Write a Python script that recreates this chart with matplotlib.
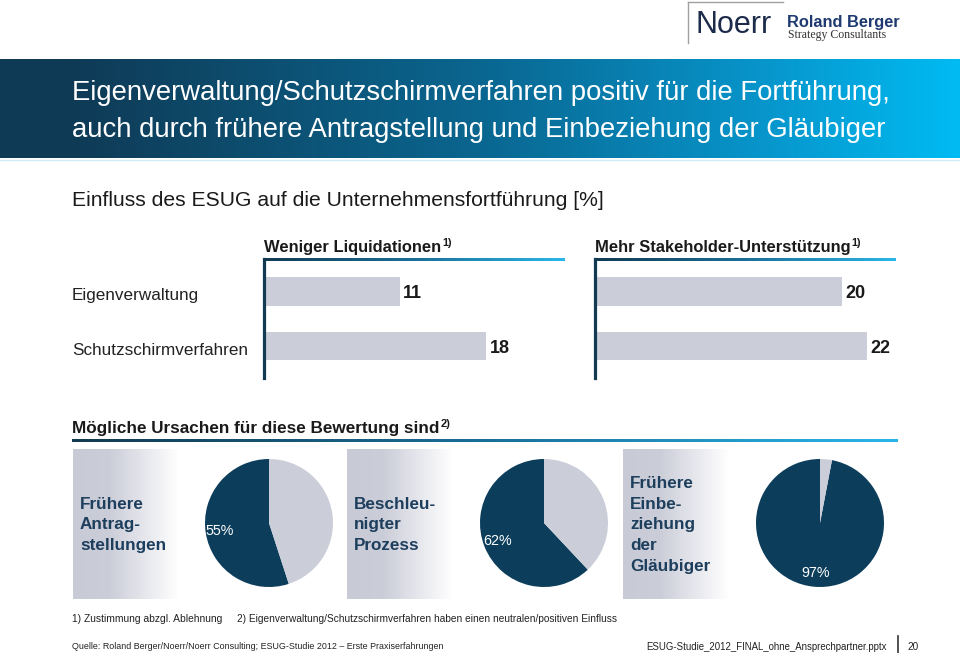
import numpy as np
import matplotlib
matplotlib.use('Agg')
import matplotlib.pyplot as plt
from matplotlib import font_manager
from matplotlib.colors import LinearSegmentedColormap

# ---------------- data ----------------
categories = ['Eigenverwaltung', 'Schutzschirmverfahren']
panel_titles = ['Weniger Liquidationen', 'Mehr Stakeholder-Unterstützung']
fewer_liquidations = [11, 18]
more_support = [20, 22]
cause_labels = ['Frühere\nAntrag-\nstellungen',
                'Beschleu-\nnigter\nProzess',
                'Frühere\nEinbe-\nziehung\nder\nGläubiger']
cause_pct = [55, 62, 97]

title_lines = ['Eigenverwaltung/Schutzschirmverfahren positiv für die Fortführung,',
               'auch durch frühere Antragstellung und Einbeziehung der Gläubiger']
subtitle = 'Einfluss des ESUG auf die Unternehmensfortführung [%]'
causes_heading = 'Mögliche Ursachen für diese Bewertung sind'
footnote1 = '1) Zustimmung abzgl. Ablehnung'
footnote2 = '2) Eigenverwaltung/Schutzschirmverfahren haben einen neutralen/positiven Einfluss'
source = 'Quelle: Roland Berger/Noerr/Noerr Consulting; ESUG-Studie 2012 – Erste Praxiserfahrungen'
file_name = 'ESUG-Studie_2012_FINAL_ohne_Ansprechpartner.pptx'
page_no = '20'

# ---------------- style ----------------
names = {f.name for f in font_manager.fontManager.ttflist}
NARROW = 'Liberation Sans Narrow' if 'Liberation Sans Narrow' in names else 'Liberation Sans'
FAM = [NARROW, 'DejaVu Sans']
NAVY = '#0c3d5a'
GRAY = '#cbcdd9'
TXT = '#1a1a1a'
BOXTXT = '#1d3e5c'

W, H = 960, 653
fig = plt.figure(figsize=(W / 100, H / 100), dpi=100)
fig.patch.set_facecolor('white')


def fx(x):
    return x / W


def fy(y):
    return 1 - y / H


bg = fig.add_axes([0, 0, 1, 1], zorder=0)
bg.set_xlim(0, W)
bg.set_ylim(H, 0)
bg.axis('off')

grad = np.linspace(0, 1, 512).reshape(1, -1)
band_cmap = LinearSegmentedColormap.from_list(
    'band', [(0, '#0f3a55'), (0.07, '#0f3a55'), (0.5, '#0a6690'), (0.8, '#0796cc'), (1.0, '#00bbf2')])
line_cmap = LinearSegmentedColormap.from_list('line', ['#123a52', '#1a6f98', '#2ab6e8'])
box_cmap = LinearSegmentedColormap.from_list(
    'box', [(0, '#c8cad5'), (0.35, '#cbcdd8'), (0.55, '#dcdde5'), (1.0, '#ffffff')])

# title band
bg.imshow(grad, cmap=band_cmap, extent=(0, W, 158, 59), aspect='auto', zorder=0)
bg.plot([0, W], [159.5, 159.5], color='#cdeef9', lw=1, zorder=1)
bg.text(72, 100, title_lines[0], color='white', fontsize=19.8, family=FAM, va='baseline')
bg.text(72, 137, title_lines[1], color='white', fontsize=19.8, family=FAM, va='baseline')

# logo
bg.plot([688, 688], [2, 43], color='#a0a0a0', lw=1)
bg.plot([688, 783], [2, 2], color='#a0a0a0', lw=1)
bg.text(695, 33, 'Noerr', fontsize=22, color='#1c2b4a', family='Liberation Sans', va='baseline')
bg.text(787, 27, 'Roland Berger', fontsize=11.8, fontweight='bold', color='#1f3a70', family=FAM,
        va='baseline')
bg.text(788, 38, 'Strategy Consultants', fontsize=8.5, color='#333333', family='Liberation Serif',
        va='baseline')

# subtitle
bg.text(72, 206, subtitle, fontsize=15.2, color=TXT, family=FAM, va='baseline')

renderer = fig.canvas.get_renderer()


def text_with_sup(x, y, s, sup, size, **kw):
    t = bg.text(x, y, s, fontsize=size, family=FAM, va='baseline', **kw)
    bb = t.get_window_extent(renderer=renderer)
    xr = bb.x1  # display pixels == figure px at dpi 100
    bg.text(xr + 1, y - size * 0.5, sup, fontsize=size * 0.65, family=FAM, va='baseline', **kw)


# bar panels
panel_x = [264, 595]
panel_w = 301
px_per_unit = 12.35
for vals, ptitle, x0 in zip([fewer_liquidations, more_support], panel_titles, panel_x):
    ax = fig.add_axes([fx(x0), fy(378), panel_w / W, 119 / H], zorder=2)
    ax.patch.set_alpha(0)
    yy = np.arange(len(categories))
    ax.barh(yy, vals, height=0.53, color=GRAY, linewidth=0)
    ax.set_xlim(0, panel_w / px_per_unit)
    ax.set_ylim(1.587, -0.596)
    for s in ['top', 'right', 'bottom']:
        ax.spines[s].set_visible(False)
    ax.spines['left'].set_color('#123a52')
    ax.spines['left'].set_linewidth(2.3)
    ax.set_xticks([])
    ax.set_yticks([])
    for yi, v in zip(yy, vals):
        ax.annotate(str(v), (v, yi), xytext=(2.5, -5.0), textcoords='offset points',
                    ha='left', va='baseline', fontsize=13, fontweight='bold', color=TXT, family=FAM)
    if x0 == panel_x[0]:
        for yi, cat in zip(yy, categories):
            ax.annotate(cat, xy=(72 / W, yi), xycoords=('figure fraction', 'data'),
                        xytext=(0, -6.3), textcoords='offset points', ha='left', va='baseline',
                        fontsize=12.3, color='#222222', family=FAM, annotation_clip=False)
    bg.imshow(grad, cmap=line_cmap, extent=(x0 - 1, x0 + panel_w, 261, 258), aspect='auto', zorder=1)
    text_with_sup(x0, 252, ptitle, '1)', 11.9, fontweight='bold', color=TXT)

# causes heading
text_with_sup(72, 433, causes_heading, '2)', 12.3, fontweight='bold', color=TXT)
bg.imshow(grad, cmap=line_cmap, extent=(72, 898, 442.5, 439.5), aspect='auto', zorder=1)

# cause boxes + pies
box_x = [73, 347, 623]
pie_cx = [269, 544, 820]
pie_cy = 523
r = 64
for lab, pct, bx, cx in zip(cause_labels, cause_pct, box_x, pie_cx):
    bg.imshow(grad, cmap=box_cmap, extent=(bx, bx + 106, 599, 449), aspect='auto', zorder=1)
    bg.text(bx + 7, 525, lab, fontsize=12.3, fontweight='bold', color=BOXTXT, family=FAM,
            va='center', ha='left', linespacing=1.48, zorder=2)
    pax = fig.add_axes([fx(cx - r), fy(pie_cy + r), 2 * r / W, 2 * r / H], zorder=2)
    wedges, _ = pax.pie([pct, 100 - pct], colors=[NAVY, GRAY], startangle=90, counterclock=True,
                        radius=1, wedgeprops=dict(linewidth=0))
    pax.set_xlim(-1, 1)
    pax.set_ylim(-1, 1)
    w0 = wedges[0]
    mid = np.deg2rad((w0.theta1 + w0.theta2) / 2)
    pax.text(0.78 * np.cos(mid), 0.78 * np.sin(mid), f'{pct}%', color='white', ha='center',
             va='center', fontsize=10.3, family=FAM)

# footnotes and footer
bg.text(72, 622, footnote1, fontsize=7.4, color='#222222', family=FAM, va='baseline')
bg.text(237, 622, footnote2, fontsize=7.3, color='#222222', family=FAM, va='baseline')
bg.text(72, 649, source, fontsize=6.4, color='#222222', family=FAM, va='baseline')
bg.text(887, 650, file_name, fontsize=6.9, color='#222222', family=FAM, va='baseline', ha='right')
bg.plot([897.5, 897.5], [636, 653], color='#333333', lw=1.2)
bg.text(907, 650, page_no, fontsize=7.2, color='#222222', family=FAM, va='baseline')

bg.set_xlim(0, W)
bg.set_ylim(H, 0)
fig.savefig('out.png', dpi=100, facecolor='white')
